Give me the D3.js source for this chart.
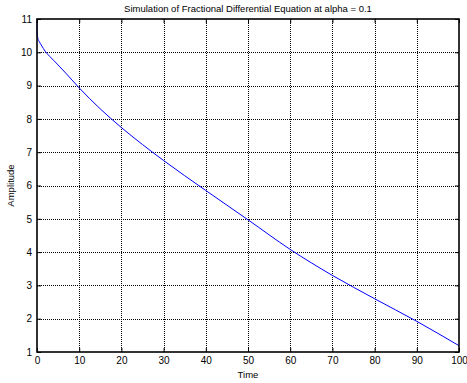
<!DOCTYPE html>
<html><head><meta charset="utf-8">
<script src="https://cdn.jsdelivr.net/npm/d3@7"></script>
<style>body{margin:0;background:#fff}svg{display:block}text{font-family:"Liberation Sans",Arial,sans-serif;fill:#000}</style>
</head><body>
<script>
const timeVals = [0, 0.05, 0.2, 0.5, 1, 2, 3, 5, 7, 10, 15, 20, 25, 30, 40, 50, 60, 70, 80, 90, 100];
const amplitude = [11, 10.6, 10.42, 10.33, 10.22, 10.02, 9.88, 9.62, 9.35, 8.93, 8.3, 7.74, 7.23, 6.75, 5.85, 4.97, 4.08, 3.3, 2.6, 1.92, 1.19];
const xTicks = [0,10,20,30,40,50,60,70,80,90,100];
const yTicks = [1,2,3,4,5,6,7,8,9,10,11];
const titleText = "Simulation of Fractional Differential Equation at alpha = 0.1";
const xLabel = "Time", yLabel = "Amplitude";

const W = 467, H = 383;
const m = {l:37, r:8, t:19, b:31};
const svg = d3.select("body").append("svg").attr("width", W).attr("height", H);
const x = d3.scaleLinear().domain([0,100]).range([m.l, W-m.r]);
const y = d3.scaleLinear().domain([1,11]).range([H-m.b, m.t]);

const g = svg.append("g");
g.selectAll(".vg").data(xTicks.slice(1,-1)).enter().append("line")
  .attr("x1", d=>Math.round(x(d))+0.5).attr("x2", d=>Math.round(x(d))+0.5)
  .attr("y1", y(11)).attr("y2", y(1))
  .attr("stroke","#000").attr("stroke-width",1).attr("stroke-dasharray","1,1");
g.selectAll(".hg").data(yTicks.slice(1,-1)).enter().append("line")
  .attr("y1", d=>Math.round(y(d))+0.5).attr("y2", d=>Math.round(y(d))+0.5)
  .attr("x1", x(0)).attr("x2", x(100))
  .attr("stroke","#000").attr("stroke-width",1).attr("stroke-dasharray","1,1");

const line = d3.line().x((d,i)=>x(timeVals[i])).y(d=>y(d)).curve(d3.curveMonotoneX);
g.append("path").datum(amplitude).attr("d", line)
  .attr("fill","none").attr("stroke","#0000ff").attr("stroke-width",1);

const xAx = d3.axisBottom(x).tickValues(xTicks).tickSize(-4).tickPadding(5).tickFormat(d3.format("d"));
const xAxT = d3.axisTop(x).tickValues(xTicks).tickSize(-4).tickFormat("");
const yAx = d3.axisLeft(y).tickValues(yTicks).tickSize(-4).tickPadding(5).tickFormat(d3.format("d"));
const yAxR = d3.axisRight(y).tickValues(yTicks).tickSize(-4).tickFormat("");
function style(sel){
  sel.select(".domain").remove();
  sel.selectAll(".tick line").attr("stroke","#000");
  sel.selectAll(".tick text").attr("font-size","10px").attr("fill","#000")
    .attr("font-family",'"Liberation Sans",Arial,sans-serif');
}
svg.append("g").attr("transform",`translate(0,${y(1)})`).call(xAx).call(style);
svg.append("g").attr("transform",`translate(0,${y(11)})`).call(xAxT).call(style);
svg.append("g").attr("transform",`translate(${x(0)},0)`).call(yAx).call(style);
svg.append("g").attr("transform",`translate(${x(100)},0)`).call(yAxR).call(style);

svg.append("rect").attr("x",x(0)).attr("y",y(11)).attr("width",x(100)-x(0)).attr("height",y(1)-y(11))
  .attr("fill","none").attr("stroke","#000").attr("stroke-width",1.6);

svg.append("text").attr("x",(x(0)+x(100))/2).attr("y",12).attr("text-anchor","middle")
  .attr("font-size","9.5px").text(titleText);
svg.append("text").attr("x",(x(0)+x(100))/2).attr("y",378).attr("text-anchor","middle")
  .attr("font-size","9.5px").text(xLabel);
svg.append("text").attr("transform",`translate(14,${(y(1)+y(11))/2}) rotate(-90)`).attr("text-anchor","middle")
  .attr("font-size","9.5px").text(yLabel);
</script>
</body></html>
